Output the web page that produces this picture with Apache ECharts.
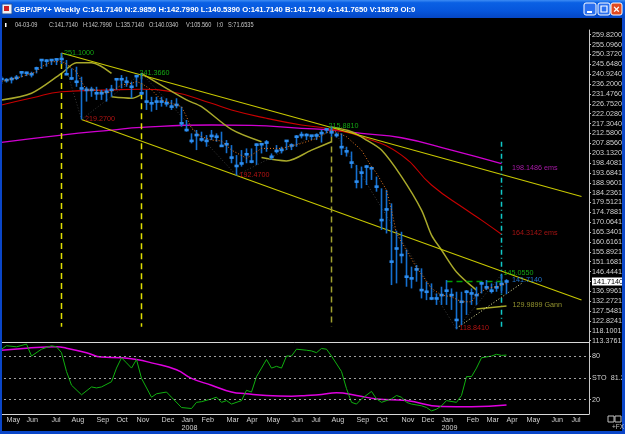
<!DOCTYPE html>
<html><head><meta charset="utf-8">
<script src="https://cdn.jsdelivr.net/npm/echarts@6/dist/echarts.min.js"></script>
<style>html,body{margin:0;padding:0;background:#000;overflow:hidden}#c{width:625px;height:434px}</style>
</head><body><div id="c"></div>
<script>
// ---------------- DATA ----------------
const firstWeekEnd = '2007-04-27';   // Friday of first weekly bar
const weekCount = 118;               // weeks on the time axis
const monthNames = ['Jan','Feb','Mar','Apr','May','Jun','Jul','Aug','Sep','Oct','Nov','Dec'];

const highs = [240.0,239.0,239.7,240.5,242.4,242.1,242.1,244.5,248.2,248.0,248.2,248.5,251.1,247.7,243.7,244.5,239.7,234.9,234.9,234.9,
 233.4,234.2,235.8,239.0,240.5,239.7,237.3,240.5,241.366,233.4,230.1,230.1,230.1,229.4,228.6,229.4,225.4,219.0,212.6,214.2,
 213.4,211.8,214.2,212.6,213.4,209.4,207.0,202.2,204.6,205.4,205.4,207.8,207.8,209.4,203.0,207.0,206.2,209.4,207.8,211.8,
 213.4,212.6,211.8,212.6,214.2,215.0,215.881,213.0,212.6,206.2,203.9,197.5,196.7,197.5,196.7,191.9,186.3,185.5,179.1,166.0,
 165.5,157.0,148.8,149.6,148.0,141.6,140.8,136.0,139.2,142.4,138.4,136.8,136.8,137.6,138.4,139.2,141.6,142.4,140.8,141.6,
 145.055,142.799];
const lows = [236.2,236.9,236.5,238.1,239.4,240.0,239.4,241.3,243.4,244.5,245.3,245.3,245.8,240.5,238.1,234.9,219.27,227.8,230.1,228.6,
 228.6,227.8,230.1,233.4,234.2,234.9,229.4,234.9,231.0,223.8,223.0,223.8,225.4,225.4,223.8,224.6,215.8,213.4,207.8,204.6,
 208.6,206.2,209.4,208.6,206.2,203.1,198.3,192.47,196.7,198.3,198.3,197.5,203.0,203.8,199.9,203.0,203.0,204.6,204.6,206.2,
 210.2,209.4,209.4,209.4,208.2,212.6,211.0,210.6,202.2,201.5,195.9,186.3,186.3,187.9,190.3,184.7,166.4,164.7,140.0,140.8,
 150.4,139.2,138.4,141.6,133.6,132.8,132.8,130.5,130.5,130.5,128.1,118.841,120.9,125.7,130.5,130.5,136.0,137.6,136.0,136.8,
 136.0,135.714];
const closes = [238.6,238.1,238.6,239.2,241.8,241.6,240.9,243.7,247.7,247.4,247.7,248.0,248.2,240.9,238.9,237.3,234.1,233.4,233.4,231.8,
 231.8,232.5,233.4,238.5,238.5,237.3,234.9,240.0,231.8,227.8,227.0,227.8,227.8,227.0,225.4,226.2,217.4,214.2,209.0,211.8,
 209.7,209.0,211.4,211.0,206.6,207.4,201.0,197.0,198.2,202.6,199.1,207.2,207.4,208.2,201.4,204.2,204.7,209.0,206.8,211.0,
 211.8,211.8,211.5,211.6,212.7,214.5,213.1,211.8,206.0,204.0,198.6,189.5,193.8,196.7,195.9,187.1,171.1,176.2,151.2,157.5,
 154.4,144.0,143.2,147.5,137.6,136.8,133.6,133.6,135.2,137.3,135.2,123.3,132.0,136.8,136.0,135.2,140.8,138.9,137.3,138.9,
 140.5,141.714];

const emaRed = [[0,226.2],[6,229.5],[12,232.5],[22,233.4],[28,233.7],[34,232.5],[42,227.0],[46,223.8],[53,219.8],[60,216.6],
 [65,215.0],[72,211.0],[80,202.2],[86,187.9],[93,175.9],[96,171.1],[100,164.3142]];
const emaMagenta = [[0,208.3],[12,211.8],[22,214.2],[28,215.5],[42,216.6],[50,216.4],[60,215.0],[66,214.2],[72,212.6],[80,210.5],
 [90,204.6],[100,198.1486]];
const oliveSegments = [
 [[0,228.6],[6,231.8],[12,241.3],[15,246.4],[18,246.4],[22,241.3]],
 [[22,230.1],[26,229.4],[28,231.3]],
 [[28,241.3],[37,228.6],[40,225.4],[46,214.5],[52,208.6]],
 [[52,201.0],[57,199.4],[62,204.6],[66,208.6]],
 [[66,215.6],[70,213.4],[73,209.4],[76,204.6],[80,191.9],[84,175.9],[86,163.9],[88,156.8],[91,146.3],[95,137.6]]
];
const shortAvg = [[0,237.4],[4,239.7],[7,242.1],[8,244.5],[10,246.9],[12,246.9],[13,245.8],[15,242.1],[16,237.4],[17,233.4],
 [19,233.4],[21,231.8],[22,232.6],[24,235.8],[26,236.5],[27,237.4],[28,236.5],[30,233.4],[32,228.6],[34,227.0],[36,225.4],
 [37,220.6],[38,215.0],[40,211.0],[42,209.4],[44,209.0],[46,204.6],[49,200.7],[50,202.2],[52,205.4],[56,205.4],[60,207.8],
 [63,210.2],[66,214.2],[69,211.0],[72,204.6],[74,196.7],[75,193.5],[77,185.5],[78,175.9],[79,164.7],[81,156.5],[83,148.4],
 [86,138.4],[88,135.2],[90,134.4],[92,132.0],[94,132.0],[95,135.2],[97,138.4],[99,139.2],[101,140.8]];
const zigzag = [[12,251.1],[16,219.27],[28,241.366],[47,192.47],[66,215.881],[91,118.841],[100,145.055]];
const upperTrend = [[12,251.1],[116,182.4]];
const lowerTrend = [[16,219.27],[116,132.8]];
const pivotVerticals = [[12,251.1,120],[28,241.366,120]];
const pivotVerticalOlive = [66,215.881,120];
const cyanVertical = [100,208.6,119];
const currentLevel = [[89,141.714],[101,141.714]];
const gannLevel = [[95,128.6],[101,129.9899]];
const gannRay = [[91,119.3],[104,140.8]];
const chartLabels = [
 [12,251.1,'251.1000'],[28,241.366,'241.3660'],[16,219.27,'219.2700'],[47,192.47,'192.4700'],
 [66,215.881,'215.8810'],[91,118.841,'118.8410'],[100,145.055,'145.0550'],[101,141.714,'141.7140'],
 [101,129.9899,'129.9899 Gann'],[100,198.1486,'198.1486 ems'],[100,164.3142,'164.3142 ems']
];
const stochK = [[0,90],[1,94.8],[3,93.3],[5,97.1],[6,80.5],[8,90],[10,94.8],[11,93.3],[12,85.2],[13,59],[14,40],[16,26.7],
 [18,37.6],[19,36.2],[20,37.6],[22,44.8],[23,63.8],[24,78.1],[25,71],[26,63.8],[27,75.7],[28,49.5],[30,23.3],[31,28.1],
 [33,30.5],[34,23.3],[36,9],[38,7.6],[39,16.2],[40,17.1],[42,21],[43,23.3],[44,16.2],[45,18.6],[46,13.8],[48,18.6],
 [49,32.9],[50,30.5],[51,51.9],[52,63.8],[53,75.7],[54,63.8],[55,66.2],[56,63.8],[57,80.5],[58,80.5],[59,90],[61,88.6],
 [62,87.6],[63,85.2],[64,91],[65,90],[66,80.5],[68,59],[69,35.2],[70,16.2],[71,13.8],[72,21],[74,31.4],[75,21],[76,16.2],
 [78,21],[79,25.7],[80,23.3],[81,16.2],[82,13.8],[84,11.4],[85,9],[86,4.3],[87,6.7],[88,11.4],[89,18.6],[91,16.2],
 [92,25.7],[93,51.9],[94,51.9],[95,63.8],[96,78.1],[98,80.5],[99,82.9],[100,81.4],[101,81.9]];
const stochSlow = [[0,88.6],[5,91.4],[11,93.3],[13,91.4],[17,85.2],[20,79],[24,78.1],[27,75.7],[30,71],[35,61.4],[38,49.5],
 [42,40],[46,30.5],[49,28.1],[53,25.7],[58,24.8],[61,25.7],[64,27.1],[67,29.5],[71,25.7],[75,21],[81,18.6],[88,10.5],
 [94,10],[101,12.4]];
const priceTickLabels = ['259.8200','255.0960','250.3720','245.6480','240.9240','236.2000','231.4760','226.7520','222.0280',
 '217.3040','212.5800','207.8560','203.1320','198.4081','193.6841','188.9601','184.2361','179.5121','174.7881','170.0641',
 '165.3401','160.6161','155.8921','151.1681','146.4441','141.7140','136.9961','132.2721','127.5481','122.8241','118.1001','113.3761'];
const lastPriceLabel = '141.7140';
const stochTickValues = [80, 50, 20];
const stochTickLabels = ['80', 'STO  81.2', '20'];
const titleText = 'GBP/JPY+ Weekly C:141.7140 N:2.9850 H:142.7990 L:140.5390 O:141.7140 B:141.7140 A:141.7650 V:15879 OI:0';
const infoItems = ['04-03-09','C:141.7140','H:142.7990','L:135.7140','O:140.0340','V:105.560','I:0','S:71.6535'];

// ---------------- STYLE ----------------
const FONT = '"Liberation Sans",Arial,sans-serif';
const FS = 7.2;
const infoX = [15,49,83,116,149,186,217,228];
const labelStyles = [
 {c:'#18d018',o:[2,0]},{c:'#18d018',o:[-2.5,0]},{c:'#e01818',o:[3,0]},{c:'#e01818',o:[2.5,0]},
 {c:'#18d018',o:[-3.5,-0.5]},{c:'#e01818',o:[2.5,-1]},{c:'#18d018',o:[1.5,-1]},{c:'#2890ff',o:[5,-1]},
 {c:'#b4b438',o:[5.5,-1]},{c:'#d020d0',o:[10,4]},{c:'#d01818',o:[10,-1]}
];

const weeks = Array.from({length: weekCount}, (_, k) =>
  new Date(Date.parse(firstWeekEnd + 'T00:00:00Z') + k * 7 * 86400000).toISOString().slice(0, 10));
const priceTickValues = priceTickLabels.map(Number);
const barData = closes.map((c, i) => [i, highs[i], lows[i], c]);

function renderBar(params, api) {
  const i = api.value(0);
  const hi = api.coord([i, api.value(1)]);
  const lo = api.coord([i, api.value(2)]);
  const cl = api.coord([i, api.value(3)]);
  return {type:'group', children:[
    {type:'line', shape:{x1:hi[0], y1:hi[1], x2:lo[0], y2:lo[1]}, style:{stroke:'#1470d0', lineWidth:1.6}},
    {type:'rect', shape:{x:cl[0]-2, y:cl[1]-1.3, width:4.2, height:2.6}, style:{fill:'#2e8ef0'}}
  ]};
}
function line(data, color, width, type, z, extra) {
  return Object.assign({type:'line', xAxisIndex:0, yAxisIndex:0, data, symbol:'none', silent:true, z,
    lineStyle:{color, width, type}}, extra || {});
}
function vertical(v, color, type) {
  return line([[v[0], v[1]], [v[0], v[2]]], color, 1.5, type, 3);
}

const series = [
  line(emaMagenta, '#d000d0', 1.3, 'solid', 2, {smooth:true}),
  line(emaRed, '#c80000', 1.1, 'solid', 2, {smooth:true}),
  ...oliveSegments.map(s => line(s, '#a8a82a', 1.5, 'solid', 2, {smooth:0.3})),
  line(upperTrend, '#c8c800', 1.1, 'solid', 2),
  line(lowerTrend, '#c8c800', 1.1, 'solid', 2),
  line(zigzag, '#3a3a3a', 1, [1,2], 2),
  ...pivotVerticals.map(v => vertical(v, '#e0e000', [6,4])),
  vertical(pivotVerticalOlive, '#a0a030', [6,4]),
  vertical(cyanVertical, '#10c8c8', [5,3,1,3]),
  line(currentLevel, '#00a000', 1.5, [6,4], 3),
  line(gannLevel, '#a8a828', 1.5, 'solid', 3),
  line(gannRay, '#e8e8a0', 1, [1,2], 3),
  {type:'custom', xAxisIndex:0, yAxisIndex:0, renderItem:renderBar, data:barData, encode:{x:0, y:[1,2,3]}, z:4, silent:true, clip:true},
  line(shortAvg, '#e87820', 1, [1,2], 5),
  {type:'scatter', xAxisIndex:0, yAxisIndex:0, symbolSize:1, itemStyle:{color:'rgba(0,0,0,0)'}, z:6, silent:true,
   data: chartLabels.map((l, k) => ({value:[l[0], l[1]], name:l[2],
     label:{show:true, position:'right', distance:0, formatter:'{b}', color:labelStyles[k].c, offset:labelStyles[k].o,
       fontSize:FS, fontFamily:FONT}}))},
  {type:'line', xAxisIndex:1, yAxisIndex:1, data:stochSlow, symbol:'none', smooth:true, silent:true,
   lineStyle:{color:'#e000e0', width:1.5}, z:2,
   markLine:{silent:true, symbol:'none', label:{show:false}, lineStyle:{color:'#a0a0a0', type:[2,3], width:1},
     data: stochTickValues.map(v => ({yAxis:v}))}},
  {type:'line', xAxisIndex:1, yAxisIndex:1, data:stochK, symbol:'none', silent:true, lineStyle:{color:'#10b010', width:1}, z:3}
];

const frameBlue = '#0a46c8';
const graphic = [
  {type:'rect', shape:{x:0,y:0,width:625,height:18}, z:100,
   style:{fill:new echarts.graphic.LinearGradient(0,0,0,1,[{offset:0,color:'#3d8cf4'},{offset:0.15,color:'#0a60e4'},{offset:0.6,color:'#0656dc'},{offset:1,color:'#0546c4'}])}},
  {type:'rect', shape:{x:0,y:18,width:2,height:416}, z:100, style:{fill:frameBlue}},
  {type:'rect', shape:{x:622,y:18,width:3,height:416}, z:100, style:{fill:frameBlue}},
  {type:'rect', shape:{x:0,y:431,width:625,height:3}, z:100, style:{fill:frameBlue}},
  {type:'rect', shape:{x:2,y:4,width:10,height:10}, z:101, style:{fill:'#f0f0f0', stroke:'#2050a0'}},
  {type:'rect', shape:{x:4,y:6,width:5,height:5}, z:102, style:{fill:'#d02020'}},
  {type:'text', x:14, y:9.5, z:101, style:{text:titleText, fill:'#ffffff', font:'bold 7.7px "Liberation Sans",Arial,sans-serif', verticalAlign:'middle'}},
  {type:'rect', shape:{x:584,y:3,width:12,height:12,r:2}, z:101, style:{fill:'#2a70f0', stroke:'#ffffff', lineWidth:1}},
  {type:'rect', shape:{x:587,y:11,width:5,height:2}, z:102, style:{fill:'#ffffff'}},
  {type:'rect', shape:{x:598,y:3,width:12,height:12,r:2}, z:101, style:{fill:'#2a70f0', stroke:'#ffffff', lineWidth:1}},
  {type:'rect', shape:{x:601,y:6,width:6,height:6}, z:102, style:{fill:'none', stroke:'#ffffff', lineWidth:1.2}},
  {type:'rect', shape:{x:611,y:3,width:11,height:12,r:2}, z:101, style:{fill:'#e04a20', stroke:'#ffffff', lineWidth:1}},
  {type:'text', x:616.5, y:9.5, z:102, style:{text:'×', fill:'#ffffff', font:'bold 11px "Liberation Sans",Arial', align:'center', verticalAlign:'middle'}},
  {type:'rect', shape:{x:5,y:23,width:1.5,height:4}, z:101, style:{fill:'#ffffff'}},
  ...infoItems.map((t, k) => ({type:'text', x:infoX[k], y:24.5, scaleX:0.7, z:101,
     style:{text:t, fill:'#c8c8c8', font:'8px ' + FONT, verticalAlign:'middle'}})),
  {type:'rect', shape:{x:608,y:416,width:6,height:6}, z:101, style:{fill:'none', stroke:'#c0c0c0', lineWidth:1}},
  {type:'rect', shape:{x:615,y:416,width:6,height:6}, z:101, style:{fill:'none', stroke:'#c0c0c0', lineWidth:1}},
  {type:'text', x:612, y:427.5, z:101, style:{text:'+FX', fill:'#c0c0c0', font:'6.5px ' + FONT, verticalAlign:'middle'}}
];

const option = {
  backgroundColor:'#000',
  animation:false,
  grid:[
    {left:-1, right:36, top:30, height:312, outerBoundsMode:'none', containLabel:false},
    {left:-1, right:36, top:342, height:72, outerBoundsMode:'none', containLabel:false}
  ],
  xAxis:[
    {type:'category', gridIndex:0, data:weeks, boundaryGap:true,
     axisLine:{show:true, lineStyle:{color:'#d8d8d8', width:1}}, axisTick:{show:false}, axisLabel:{show:false}, splitLine:{show:false}},
    {type:'category', gridIndex:1, data:weeks, boundaryGap:true,
     axisLine:{show:true, lineStyle:{color:'#d8d8d8', width:1}}, axisTick:{show:false}, splitLine:{show:false},
     axisLabel:{show:true, color:'#d0d0d0', fontSize:FS, fontFamily:FONT, align:'left', margin:2.5, lineHeight:7.5, hideOverlap:false,
       interval:(idx, val) => idx > 0 && val.slice(5,7) !== weeks[idx-1].slice(5,7),
       formatter:(val) => { const m = +val.slice(5,7); return m === 1 ? monthNames[0] + '\n' + val.slice(0,4) : monthNames[m-1]; }}}
  ],
  yAxis:[
    {type:'value', gridIndex:0, position:'right', min:112.75, max:262.07, scale:true,
     axisLine:{show:true, lineStyle:{color:'#c8c8c8'}}, splitLine:{show:false},
     axisTick:{show:true, customValues:priceTickValues, length:2, lineStyle:{color:'#c8c8c8'}},
     axisLabel:{show:true, customValues:priceTickValues, color:'#d0d0d0', fontSize:FS, fontFamily:FONT, margin:3,
       formatter:(v) => { let best = 0; priceTickValues.forEach((t, k) => { if (Math.abs(t - v) < Math.abs(priceTickValues[best] - v)) best = k; });
         const s = priceTickLabels[best]; return s === lastPriceLabel ? '{hl|' + s + '}' : s; },
       rich:{hl:{backgroundColor:'#ffffff', color:'#000000', fontSize:FS, fontFamily:FONT, padding:[1,3,0,1]}}}},
    {type:'value', gridIndex:1, position:'right', min:0, max:100,
     axisLine:{show:true, lineStyle:{color:'#c8c8c8'}}, splitLine:{show:false},
     axisTick:{show:true, customValues:stochTickValues, length:2, lineStyle:{color:'#c8c8c8'}},
     axisLabel:{show:true, customValues:stochTickValues, color:'#d0d0d0', fontSize:FS, fontFamily:FONT, margin:3,
       formatter:(v) => stochTickLabels[stochTickValues.indexOf(v)] ?? ''}}
  ],
  series,
  graphic
};
echarts.init(document.getElementById('c'), null, {renderer:'canvas'}).setOption(option);
</script></body></html>
